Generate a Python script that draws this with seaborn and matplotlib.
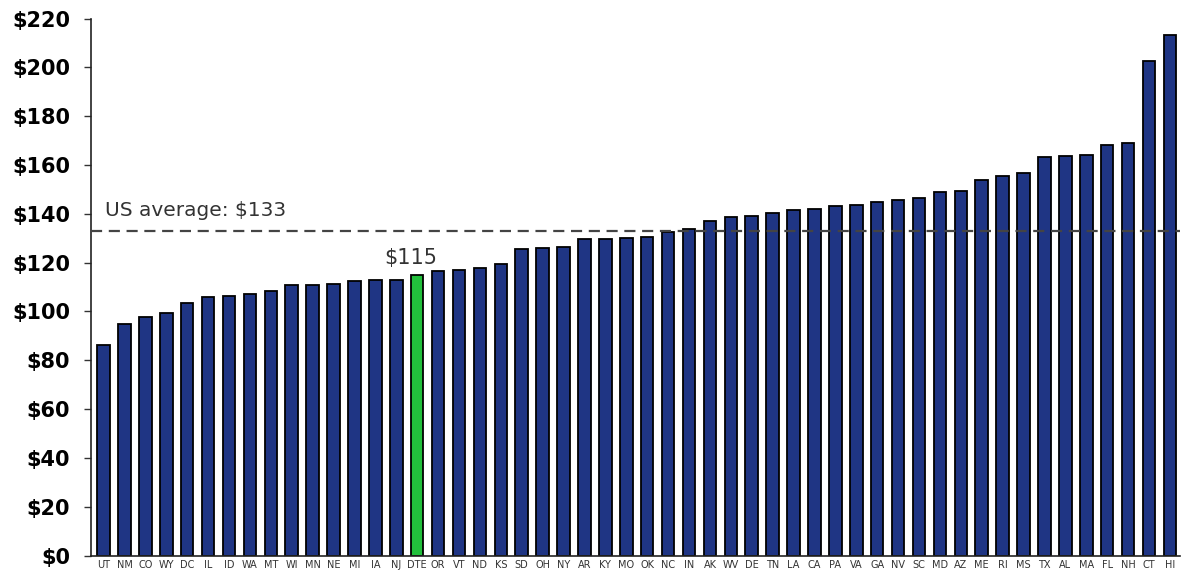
import matplotlib
matplotlib.use("Agg")
import matplotlib.pyplot as plt
import seaborn as sns
import pandas as pd

states = ["UT", "NM", "CO", "WY", "DC", "IL", "ID", "WA", "MT", "WI", "MN", "NE", "MI", "IA",
          "NJ", "DTE", "OR", "VT", "ND", "KS", "SD", "OH", "NY", "AR", "KY", "MO", "OK", "NC",
          "IN", "AK", "WV", "DE", "TN", "LA", "CA", "PA", "VA", "GA", "NV", "SC", "MD", "AZ",
          "ME", "RI", "MS", "TX", "AL", "MA", "FL", "NH", "CT", "HI"]
values = [86.4, 94.7, 97.9, 99.4, 103.5, 105.8, 106.3, 107.1, 108.3, 110.8, 110.8, 111.3, 112.6, 113.0,
          113.0, 115.0, 116.4, 117.2, 117.9, 119.4, 125.7, 126.0, 126.4, 129.7, 129.7, 130.3, 130.6, 132.5,
          133.8, 137.0, 138.6, 139.0, 140.3, 141.4, 142.1, 143.4, 143.6, 145.0, 145.8, 146.5, 148.8, 149.4,
          154.0, 155.5, 156.9, 163.1, 163.6, 164.0, 168.1, 169.1, 202.5, 213.2]
highlight = "DTE"
us_average = 133
avg_label = "US average: $133"
yticks = [0, 20, 40, 60, 80, 100, 120, 140, 160, 180, 200, 220]

navy = "#1f3584"
green = "#22c03c"

sns.set_theme(style="white")
plt.rcParams["font.family"] = ["DejaVu Sans"]

df = pd.DataFrame({"state": states, "value": values})
palette = {s: (green if s == highlight else navy) for s in states}

fig = plt.figure(figsize=(11.88, 5.73), dpi=100)
ax = fig.add_axes([0.0766, 0.0305, 0.917, 0.937])

sns.barplot(data=df, x="state", y="value", hue="state", palette=palette, legend=False,
            width=0.6, edgecolor="black", linewidth=1.3, saturation=1, ax=ax, zorder=2)

ax.axhline(us_average, color="#444444", linestyle=(0, (5, 3)), linewidth=1.6, zorder=3)
ax.text(0.05, 139, avg_label, fontsize=14.5, color="#333333", ha="left", va="baseline")

hi = states.index(highlight)
ax.text(hi - 0.3, values[hi] + 2.8, f"${values[hi]:.0f}", fontsize=15, color="#333333",
        ha="center", va="bottom")

ax.set_ylim(0, 220)
ax.set_xlim(-0.6, len(states) - 0.5)
ax.set_yticks(yticks)
ax.set_yticklabels([f"${v}" for v in yticks], fontsize=15, fontweight="bold", color="black")
ax.tick_params(axis="y", which="both", left=True, length=5, width=1, color="#333333", pad=10)
ax.tick_params(axis="x", bottom=False, length=0, labelsize=7, labelcolor="#333333", pad=3)
ax.set_xlabel("")
ax.set_ylabel("")

for side in ["top", "right"]:
    ax.spines[side].set_visible(False)
for side in ["left", "bottom"]:
    ax.spines[side].set_color("#222222")
    ax.spines[side].set_linewidth(1.2)

fig.savefig("out.png", dpi=100)
